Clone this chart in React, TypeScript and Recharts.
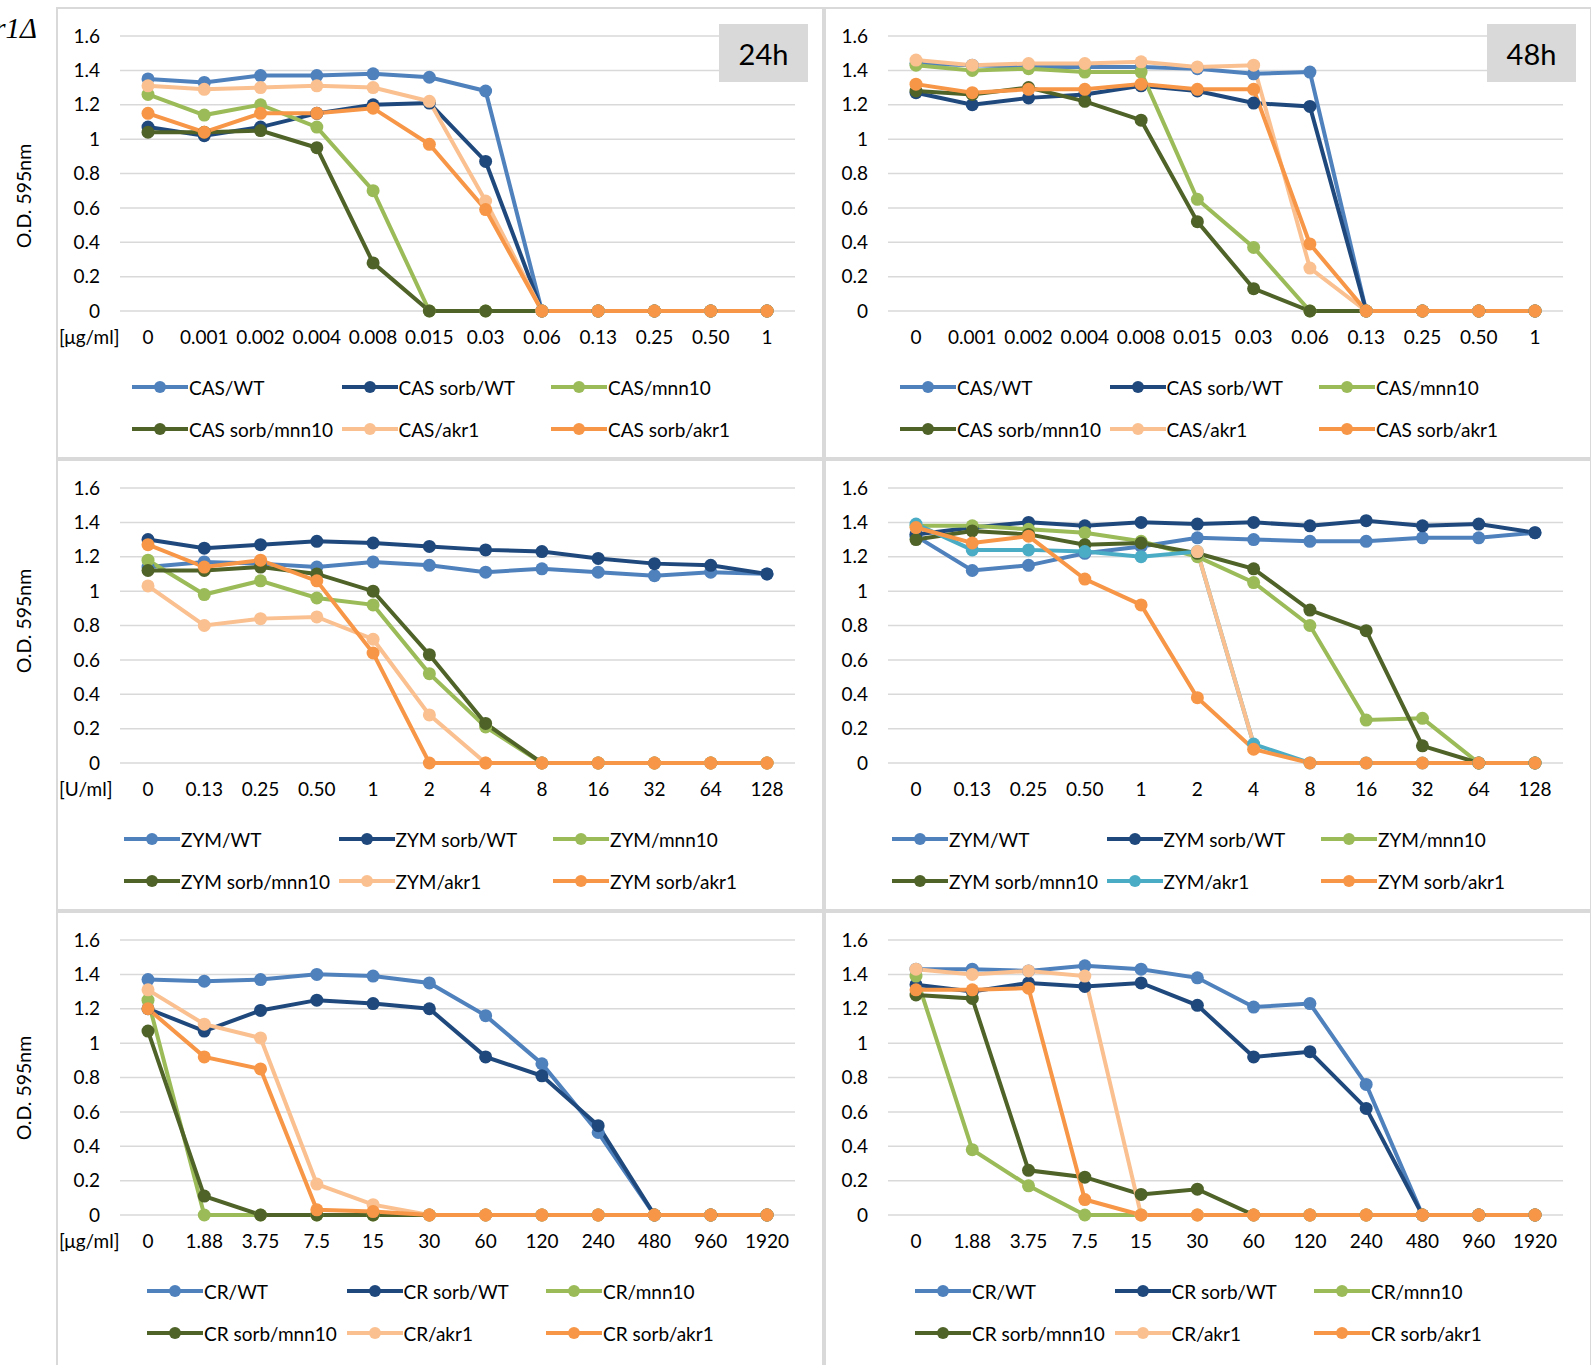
import React from 'react';
import { LineChart, Line, XAxis, YAxis, CartesianGrid } from 'recharts';

// dose categories per drug
const casDoses = ['0', '0.001', '0.002', '0.004', '0.008', '0.015', '0.03', '0.06', '0.13', '0.25', '0.50', '1'];
const zymDoses = ['0', '0.13', '0.25', '0.50', '1', '2', '4', '8', '16', '32', '64', '128'];
const crDoses = ['0', '1.88', '3.75', '7.5', '15', '30', '60', '120', '240', '480', '960', '1920'];

const yTicks = [0, 0.2, 0.4, 0.6, 0.8, 1, 1.2, 1.4, 1.6];

// CAS 24h
const casWt24 = [1.35, 1.33, 1.37, 1.37, 1.38, 1.36, 1.28, 0, 0, 0, 0, 0];
const casSorbWt24 = [1.07, 1.02, 1.07, 1.15, 1.2, 1.21, 0.87, 0, 0, 0, 0, 0];
const casMnn24 = [1.26, 1.14, 1.2, 1.07, 0.7, 0, 0, 0, 0, 0, 0, 0];
const casSorbMnn24 = [1.04, 1.04, 1.05, 0.95, 0.28, 0, 0, 0, 0, 0, 0, 0];
const casAkr24 = [1.31, 1.29, 1.3, 1.31, 1.3, 1.22, 0.64, 0, 0, 0, 0, 0];
const casSorbAkr24 = [1.15, 1.04, 1.15, 1.15, 1.18, 0.97, 0.59, 0, 0, 0, 0, 0];

// CAS 48h
const casWt48 = [1.44, 1.43, 1.42, 1.42, 1.42, 1.41, 1.38, 1.39, 0, 0, 0, 0];
const casSorbWt48 = [1.27, 1.2, 1.24, 1.26, 1.31, 1.28, 1.21, 1.19, 0, 0, 0, 0];
const casMnn48 = [1.43, 1.4, 1.41, 1.39, 1.39, 0.65, 0.37, 0, 0, 0, 0, 0];
const casSorbMnn48 = [1.28, 1.26, 1.3, 1.22, 1.11, 0.52, 0.13, 0, 0, 0, 0, 0];
const casAkr48 = [1.46, 1.43, 1.44, 1.44, 1.45, 1.42, 1.43, 0.25, 0, 0, 0, 0];
const casSorbAkr48 = [1.32, 1.27, 1.29, 1.29, 1.32, 1.29, 1.29, 0.39, 0, 0, 0, 0];

// ZYM 24h
const zymWt24 = [1.14, 1.17, 1.16, 1.14, 1.17, 1.15, 1.11, 1.13, 1.11, 1.09, 1.11, 1.1];
const zymSorbWt24 = [1.3, 1.25, 1.27, 1.29, 1.28, 1.26, 1.24, 1.23, 1.19, 1.16, 1.15, 1.1];
const zymMnn24 = [1.18, 0.98, 1.06, 0.96, 0.92, 0.52, 0.21, 0, 0, 0, 0, 0];
const zymSorbMnn24 = [1.12, 1.12, 1.14, 1.1, 1.0, 0.63, 0.23, 0, 0, 0, 0, 0];
const zymAkr24 = [1.03, 0.8, 0.84, 0.85, 0.72, 0.28, 0, 0, 0, 0, 0, 0];
const zymSorbAkr24 = [1.27, 1.14, 1.18, 1.06, 0.64, 0, 0, 0, 0, 0, 0, 0];

// ZYM 48h
const zymWt48 = [1.32, 1.12, 1.15, 1.22, 1.26, 1.31, 1.3, 1.29, 1.29, 1.31, 1.31, 1.34];
const zymSorbWt48 = [1.33, 1.37, 1.4, 1.38, 1.4, 1.39, 1.4, 1.38, 1.41, 1.38, 1.39, 1.34];
const zymMnn48 = [1.38, 1.38, 1.36, 1.34, 1.29, 1.2, 1.05, 0.8, 0.25, 0.26, 0, 0];
const zymSorbMnn48 = [1.3, 1.35, 1.33, 1.27, 1.28, 1.22, 1.13, 0.89, 0.77, 0.1, 0, 0];
const zymAkr48 = [1.39, 1.24, 1.24, 1.23, 1.2, 1.23, 0.11, 0, 0, 0, 0, 0];
// the one segment of ZYM/akr1 that is formatted peach in the original
const zymAkr48Peach = [null, null, null, null, null, 1.23, 0.11, null, null, null, null, null];
const zymSorbAkr48 = [1.37, 1.28, 1.32, 1.07, 0.92, 0.38, 0.08, 0, 0, 0, 0, 0];

// CR 24h
const crWt24 = [1.37, 1.36, 1.37, 1.4, 1.39, 1.35, 1.16, 0.88, 0.48, 0, 0, 0];
const crSorbWt24 = [1.2, 1.07, 1.19, 1.25, 1.23, 1.2, 0.92, 0.81, 0.52, 0, 0, 0];
const crMnn24 = [1.25, 0, 0, 0, 0, 0, 0, 0, 0, 0, 0, 0];
const crSorbMnn24 = [1.07, 0.11, 0, 0, 0, 0, 0, 0, 0, 0, 0, 0];
const crAkr24 = [1.31, 1.11, 1.03, 0.18, 0.06, 0, 0, 0, 0, 0, 0, 0];
const crSorbAkr24 = [1.2, 0.92, 0.85, 0.03, 0.02, 0, 0, 0, 0, 0, 0, 0];

// CR 48h
const crWt48 = [1.43, 1.43, 1.42, 1.45, 1.43, 1.38, 1.21, 1.23, 0.76, 0, 0, 0];
const crSorbWt48 = [1.34, 1.3, 1.35, 1.33, 1.35, 1.22, 0.92, 0.95, 0.62, 0, 0, 0];
const crMnn48 = [1.39, 0.38, 0.17, 0, 0, 0, 0, 0, 0, 0, 0, 0];
const crSorbMnn48 = [1.28, 1.26, 0.26, 0.22, 0.12, 0.15, 0, 0, 0, 0, 0, 0];
const crAkr48 = [1.43, 1.4, 1.42, 1.39, 0, 0, 0, 0, 0, 0, 0, 0];
const crSorbAkr48 = [1.31, 1.31, 1.32, 0.09, 0, 0, 0, 0, 0, 0, 0, 0];

const colors = {
  wt: '#4F81BD',
  sorbWt: '#1F497D',
  mnn: '#9BBB59',
  sorbMnn: '#4F6228',
  akr: '#FAC090',
  sorbAkr: '#F79646',
  teal: '#4BACC6'
};

type Series = {
  name: string;
  color: string;
  values: (number | null)[];
  legend?: boolean;
  dotAt?: number[];
};

const makeSeries = (drug: string, vals: (number | null)[][], akrColor = colors.akr): Series[] => [
  { name: `${drug}/WT`, color: colors.wt, values: vals[0] },
  { name: `${drug} sorb/WT`, color: colors.sorbWt, values: vals[1] },
  { name: `${drug}/mnn10`, color: colors.mnn, values: vals[2] },
  { name: `${drug} sorb/mnn10`, color: colors.sorbMnn, values: vals[3] },
  { name: `${drug}/akr1`, color: akrColor, values: vals[4] },
  { name: `${drug} sorb/akr1`, color: colors.sorbAkr, values: vals[5] }
];

const PANEL_W = 768;
const PANEL_H = 452;
const FONT = 'Lato, "Open Sans", sans-serif';

interface PanelProps {
  left: number;
  top: number;
  height?: number;
  doses: string[];
  series: Series[];
  unit?: string;
  time?: string;
  legendStart: number;
  legendCol: number;
}

const LegendIcon = ({ color }: { color: string }) => (
  <svg width={56} height={14} style={{ display: 'block', flex: 'none' }}>
    <line x1={0} y1={7} x2={56} y2={7} stroke={color} strokeWidth={4} />
    <circle cx={28} cy={7} r={6} fill={color} />
  </svg>
);

const ChartLegend = ({ series, start, col }: { series: Series[]; start: number; col: number }) => {
  const items = series.filter((s) => s.legend !== false);
  return (
    <div style={{ position: 'absolute', left: start, top: 359, width: col * 3 }}>
      {[0, 1].map((row) => (
        <div key={row} style={{ display: 'flex', height: 42 }}>
          {items.slice(row * 3, row * 3 + 3).map((s) => (
            <div key={s.name} style={{ width: col, display: 'flex', alignItems: 'center' }}>
              <LegendIcon color={s.color} />
              <span style={{ fontSize: 19, marginLeft: 1, whiteSpace: 'nowrap', color: '#000' }}>{s.name}</span>
            </div>
          ))}
        </div>
      ))}
    </div>
  );
};

const Panel: React.FC<PanelProps> = ({ left, top, height = PANEL_H, doses, series, unit, time, legendStart, legendCol }) => {
  const data = doses.map((d, i) => {
    const row: Record<string, any> = { dose: d };
    series.forEach((s) => {
      row[s.name] = s.values[i];
    });
    return row;
  });

  return (
    <div style={{ position: 'absolute', left, top, width: PANEL_W, height }}>
      <div
        style={{
          position: 'absolute',
          inset: 0,
          border: '2px solid #d9d9d9'
        }}
      />
      <div style={{ position: 'absolute', left: 0, top: 0 }}>
        <LineChart width={PANEL_W} height={PANEL_H} data={data} margin={{ top: 29, right: 29, bottom: 0, left: 0 }}>
          <CartesianGrid horizontal vertical={false} stroke="#d9d9d9" strokeWidth={1.5} />
          <XAxis
            dataKey="dose"
            height={148}
            interval={0}
            padding={{ left: 28, right: 28 }}
            axisLine={false}
            tickLine={false}
            tickSize={0}
            tickMargin={20}
            tick={{ fontSize: 19, fill: '#000' }}
          />
          <YAxis
            width={64}
            domain={[0, 1.6]}
            ticks={yTicks}
            axisLine={false}
            tickLine={false}
            tickSize={0}
            tickMargin={20}
            tick={{ fontSize: 19, fill: '#000' }}
          />
          {series.map((s) => (
            <Line
              key={s.name}
              type="linear"
              dataKey={s.name}
              stroke={s.color}
              strokeWidth={4}
              connectNulls={false}
              activeDot={false}
              isAnimationActive={false}
              dot={
                s.dotAt
                  ? (p: any) =>
                      s.dotAt!.includes(p.index) ? (
                        <circle key={`${s.name}-${p.index}`} cx={p.cx} cy={p.cy} r={6.5} fill={s.color} />
                      ) : (
                        <g key={`${s.name}-${p.index}`} />
                      )
                  : { r: 6.5, fill: s.color, stroke: s.color, strokeWidth: 0 }
              }
            />
          ))}
        </LineChart>
      </div>
      {unit && (
        <div style={{ position: 'absolute', left: 3, top: 318, fontSize: 19, lineHeight: '24px' }}>{unit}</div>
      )}
      {time && (
        <div
          style={{
            position: 'absolute',
            left: 663,
            top: 17,
            width: 89,
            height: 58,
            background: '#d9d9d9',
            fontSize: 29,
            display: 'flex',
            alignItems: 'center',
            justifyContent: 'center'
          }}
        >
          {time}
        </div>
      )}
      <ChartLegend series={series} start={legendStart} col={legendCol} />
    </div>
  );
};

const YLabel = ({ centerY }: { centerY: number }) => (
  <div
    style={{
      position: 'absolute',
      left: 23,
      top: centerY,
      transform: 'translate(-50%, -50%) rotate(-90deg)',
      fontSize: 19.5,
      whiteSpace: 'nowrap'
    }}
  >
    O.D. 595nm
  </div>
);

const cas24 = makeSeries('CAS', [casWt24, casSorbWt24, casMnn24, casSorbMnn24, casAkr24, casSorbAkr24]);
const cas48 = makeSeries('CAS', [casWt48, casSorbWt48, casMnn48, casSorbMnn48, casAkr48, casSorbAkr48]);
const zym24 = makeSeries('ZYM', [zymWt24, zymSorbWt24, zymMnn24, zymSorbMnn24, zymAkr24, zymSorbAkr24]);
const zym48Base = makeSeries('ZYM', [zymWt48, zymSorbWt48, zymMnn48, zymSorbMnn48, zymAkr48, zymSorbAkr48], colors.teal);
const zym48: Series[] = [
  ...zym48Base.slice(0, 5),
  { name: 'ZYM/akr1 seg', color: colors.akr, values: zymAkr48Peach, legend: false, dotAt: [5] },
  zym48Base[5]
];
const cr24 = makeSeries('CR', [crWt24, crSorbWt24, crMnn24, crSorbMnn24, crAkr24, crSorbAkr24]);
const cr48 = makeSeries('CR', [crWt48, crSorbWt48, crMnn48, crSorbMnn48, crAkr48, crSorbAkr48]);

export default function App() {
  return (
    <div
      style={{
        position: 'absolute',
        left: 0,
        top: 0,
        width: 1591,
        height: 1365,
        overflow: 'hidden',
        background: '#fff',
        fontFamily: FONT,
        color: '#000'
      }}
    >
      <div
        style={{
          position: 'absolute',
          right: 1591 - 37,
          top: 12,
          fontFamily: '"Liberation Serif", serif',
          fontStyle: 'italic',
          fontSize: 29,
          whiteSpace: 'nowrap'
        }}
      >
        akr1Δ
      </div>
      <YLabel centerY={196} />
      <YLabel centerY={621} />
      <YLabel centerY={1088} />

      <Panel left={56} top={7} doses={casDoses} series={cas24} unit="[μg/ml]" time="24h" legendStart={76} legendCol={209.5} />
      <Panel left={824} top={7} doses={casDoses} series={cas48} time="48h" legendStart={76} legendCol={209.5} />
      <Panel left={56} top={459} doses={zymDoses} series={zym24} unit="[U/ml]" legendStart={68} legendCol={214.5} />
      <Panel left={824} top={459} doses={zymDoses} series={zym48} legendStart={68} legendCol={214.5} />
      <Panel left={56} top={911} height={470} doses={crDoses} series={cr24} unit="[μg/ml]" legendStart={91} legendCol={199.5} />
      <Panel left={824} top={911} height={470} doses={crDoses} series={cr48} legendStart={91} legendCol={199.5} />
    </div>
  );
}
